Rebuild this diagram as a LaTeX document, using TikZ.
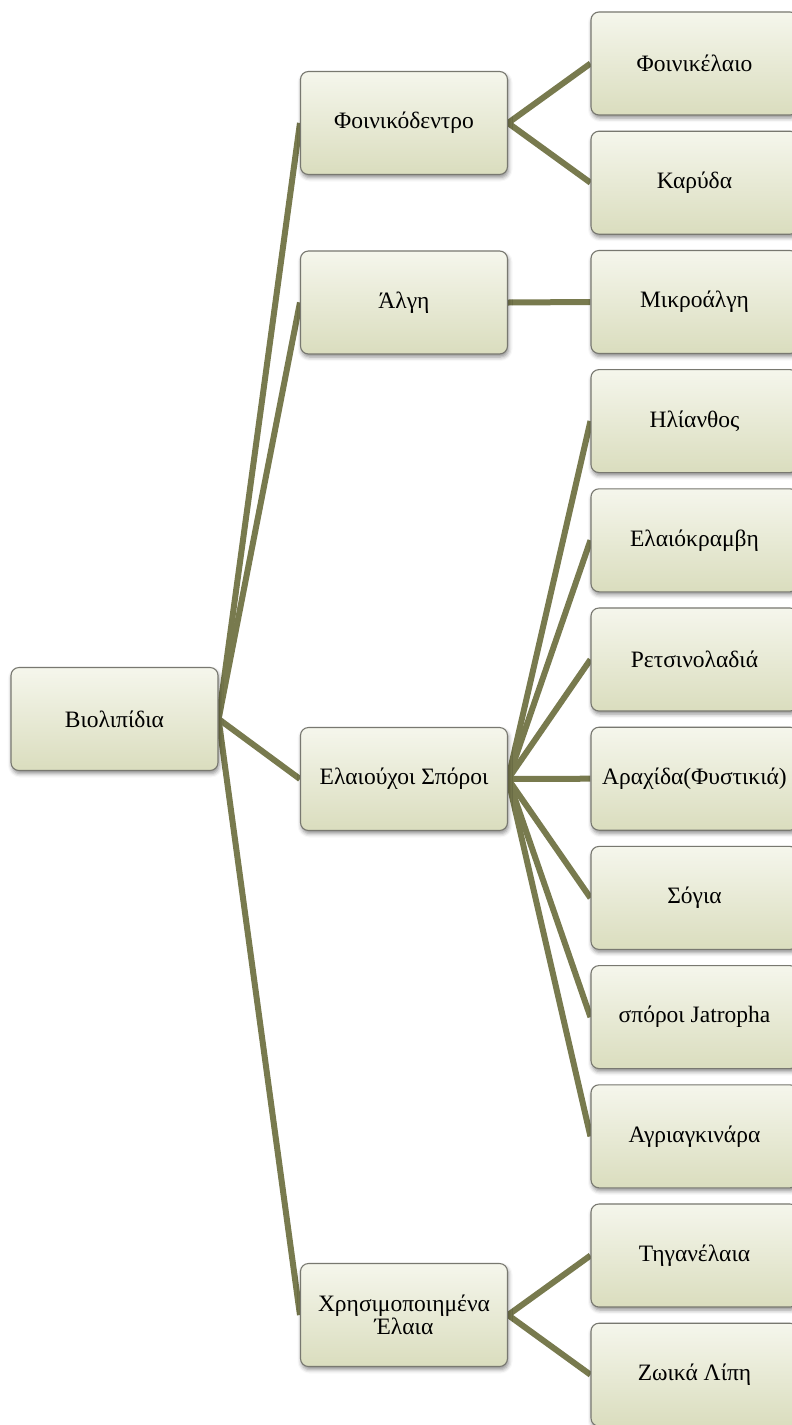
\documentclass[tikz,border=0pt]{standalone}
\usepackage{fontspec}
\setmainfont{Liberation Serif}
\usetikzlibrary{shadows.blur}
\pgfdeclarelayer{background}
\pgfsetlayers{background,main}

\definecolor{linkolive}{RGB}{120,122,78}
\definecolor{boxtop}{RGB}{245,246,236}
\definecolor{boxbottom}{RGB}{218,221,190}
\definecolor{boxedge}{RGB}{120,120,112}

\tikzset{
  topic/.style={
    rectangle, rounded corners=8pt,
    minimum width=207pt, minimum height=103pt,
    draw=boxedge, line width=1.1pt,
    top color=boxtop, bottom color=boxbottom,
    blur shadow={shadow xshift=1pt, shadow yshift=-3pt,
                 shadow blur radius=4pt, shadow opacity=45},
    align=center, text=black, inner sep=2pt,
    font=\fontsize{23.5pt}{21.5pt}\selectfont
  },
  link/.style={draw=linkolive, line width=6pt}
}

\begin{document}
\begin{tikzpicture}[x=1pt, y=-1pt]
  \useasboundingbox (0,0) rectangle (792,1425);
  \clip (0,0) rectangle (792,1425);

  % root
  \node[topic] (root) at (114.5,719) {Βιολιπίδια};

  % first level
  \node[topic] (palm)  at (404,123)  {Φοινικόδεντρο};
  \node[topic] (algae) at (404,302.5) {Άλγη};
  \node[topic] (seeds) at (404,779)  {Ελαιούχοι Σπόροι};
  \node[topic] (used)  at (404,1315) {Χρησιμοποιημένα\\Έλαια};

  % second level
  \node[topic] (palmoil)   at (694.5,63.5)   {Φοινικέλαιο};
  \node[topic] (coconut)   at (694.5,182.7)  {Καρύδα};
  \node[topic] (micro)     at (694.5,302)    {Μικροάλγη};
  \node[topic] (sunflower) at (694.5,421.1)  {Ηλίανθος};
  \node[topic] (rapeseed)  at (694.5,540.3)  {Ελαιόκραμβη};
  \node[topic] (castor)    at (694.5,659.5)  {Ρετσινολαδιά};
  \node[topic] (peanut)    at (694.5,778.7)  {Αραχίδα(Φυστικιά)};
  \node[topic] (soy)       at (694.5,897.9)  {Σόγια};
  \node[topic] (jatropha)  at (694.5,1017.1) {σπόροι Jatropha};
  \node[topic] (cardoon)   at (694.5,1136.3) {Αγριαγκινάρα};
  \node[topic] (frying)    at (694.5,1255.5) {Τηγανέλαια};
  \node[topic] (animal)    at (694.5,1374.7) {Ζωικά Λίπη};

  \begin{pgfonlayer}{background}
    \foreach \c in {palm,algae,seeds,used}
      \draw[link] (root.east) -- (\c.west);
    \foreach \c in {palmoil,coconut}
      \draw[link] (palm.east) -- (\c.west);
    \draw[link] (algae.east) -- (micro.west);
    \foreach \c in {sunflower,rapeseed,castor,peanut,soy,jatropha,cardoon}
      \draw[link] (seeds.east) -- (\c.west);
    \foreach \c in {frying,animal}
      \draw[link] (used.east) -- (\c.west);
  \end{pgfonlayer}
\end{tikzpicture}
\end{document}
